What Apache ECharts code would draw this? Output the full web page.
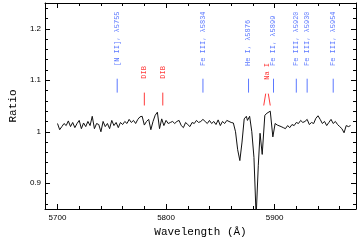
<!DOCTYPE html>
<html><head><meta charset="utf-8">
<script src="https://cdn.jsdelivr.net/npm/echarts@6/dist/echarts.min.js"></script>
<style>html,body{margin:0;padding:0;background:#fff}#c{width:360px;height:243px}</style>
</head><body><div id="c"></div>
<script>
const wavelengths = [5700,5702,5704,5706,5708,5710,5712,5714,5716,5718,5720,5722,5724,5726,5728,5730,5732,5734,5736,5738,5740,5742,5744,5746,5748,5750,5752,5754,5756,5758,5760,5762,5764,5766,5768,5770,5772,5774,5776,5778,5780,5782,5784,5786,5788,5790,5792,5794,5796,5798,5800,5802,5804,5806,5808,5810,5812,5814,5816,5818,5820,5822,5824,5826,5828,5830,5832,5834,5836,5838,5840,5842,5844,5846,5848,5850,5852,5854,5856,5858,5860,5862,5864,5866,5868,5870,5872,5874,5875,5877,5879,5881,5883,5885,5886.6,5888.6,5891,5893,5896,5898.4,5900.5,5902.5,5904,5906,5908,5910,5912,5914,5916,5918,5920,5922,5924,5926,5928,5930,5932,5934,5936,5938,5940,5942,5944,5946,5948,5950,5952,5954,5956,5958,5960,5962,5964,5966,5968,5970];
const ratios = [1.016,1.004,1.010,1.016,1.012,1.021,1.010,1.018,1.008,1.016,1.022,1.006,1.017,1.010,1.020,1.012,1.030,1.006,1.016,1.014,1.000,1.020,1.010,1.016,1.006,1.022,1.012,1.018,1.008,1.018,1.014,1.020,1.016,1.024,1.018,1.022,1.016,1.024,1.029,1.030,1.013,1.020,1.024,1.004,1.020,1.032,1.038,1.006,1.025,1.012,1.022,1.016,1.018,1.020,1.016,1.020,1.022,1.012,1.008,1.018,1.014,1.010,1.018,1.016,1.022,1.018,1.020,1.024,1.020,1.016,1.022,1.016,1.020,1.014,1.023,1.012,1.020,1.016,1.022,1.020,1.018,1.017,1.000,0.965,0.944,0.980,1.025,1.030,1.022,1.030,1.000,0.950,0.835,0.935,0.997,0.956,1.032,1.036,1.040,0.990,1.016,1.013,1.014,1.010,1.008,1.006,1.012,1.008,1.014,1.012,1.018,1.016,1.022,1.018,1.020,1.024,1.014,1.018,1.016,1.026,1.031,1.024,1.016,1.020,1.012,1.018,1.024,1.016,1.020,1.014,1.010,1.006,0.998,1.012,1.010,1.012];

const xMajorTicks = [5700,5800,5900];
const xMinorTicks = [5700,5720,5740,5760,5780,5800,5820,5840,5860,5880,5900,5920,5940,5960];
const yMajorTicks = [0.9,1.0,1.1,1.2];
const yMinorTicks = [0.86,0.88,0.9,0.92,0.94,0.96,0.98,1.0,1.02,1.04,1.06,1.08,1.1,1.12,1.14,1.16,1.18,1.2,1.22,1.24];

const blueLineWaves = [5755,5834,5876,5899,5920,5930,5954];
const blueLabels = ['[N II], λ5755','Fe III, λ5834','He I, λ5876','Fe II, λ5899','Fe III, λ5920','Fe III, λ5930','Fe III, λ5954'];
const dibWaves = [5780,5797];
const dibLabels = ['DIB','DIB'];
const naWaves = [5890,5896];
const naLabel = 'Na I';

const BLUE = '#5b78ff', RED = '#ff3a3a';
const XMIN = 5688.5, XMAX = 5975, YMIN = 0.85, YMAX = 1.25;

const chart = echarts.init(document.getElementById('c'));
const tickFont = {fontFamily:'Liberation Sans', fontSize:8, color:'#000', formatter:(v)=>String(+v.toFixed(2))};
function xAx(pos, ticks, len, labels, line) {
  return {type:'value', min:XMIN, max:XMAX, position:pos,
    axisLine:{show:line, onZero:false, lineStyle:{color:'#000', width:1}},
    axisTick:{show:true, inside:true, length:len, customValues:ticks, lineStyle:{color:'#000', width:1}},
    axisLabel: labels ? Object.assign({show:true, customValues:labels, margin:5}, tickFont) : {show:false},
    splitLine:{show:false}};
}
function yAx(pos, ticks, len, labels, line) {
  return {type:'value', min:YMIN, max:YMAX, position:pos,
    axisLine:{show:line, onZero:false, lineStyle:{color:'#000', width:1}},
    axisTick:{show:true, inside:true, length:len, customValues:ticks, lineStyle:{color:'#000', width:1}},
    axisLabel: labels ? Object.assign({show:true, customValues:labels, margin:4}, tickFont) : {show:false},
    splitLine:{show:false}};
}
const xAxes = [xAx('bottom', xMajorTicks, 5, xMajorTicks, true), xAx('bottom', xMinorTicks, 3, null, false),
               xAx('top', xMajorTicks, 5, null, true), xAx('top', xMinorTicks, 3, null, false)];
Object.assign(xAxes[0], {name:'Wavelength (Å)', nameLocation:'middle', nameGap:18,
  nameTextStyle:{fontFamily:'Liberation Mono', fontSize:11, color:'#000'}});
const yAxes = [yAx('left', yMajorTicks, 5, yMajorTicks, true), yAx('left', yMinorTicks, 3, null, false),
               yAx('right', yMajorTicks, 5, null, true), yAx('right', yMinorTicks, 3, null, false)];
Object.assign(yAxes[0], {name:'Ratio', nameLocation:'middle', nameGap:22,
  nameTextStyle:{fontFamily:'Liberation Mono', fontSize:11, color:'#000'}});

const annFont = 'Liberation Mono';
function labelSeries(waves, texts, color, textY, lineTop, lineBot) {
  return {type:'custom', xAxisIndex:0, yAxisIndex:0, silent:true, clip:false,
    data: waves.map((w,i)=>[w,i]),
    renderItem:(params, api)=>{
      const x = api.value(0); const i = api.value(1);
      const pT = api.coord([x, textY]);
      const p1 = api.coord([x, lineTop]); const p2 = api.coord([x, lineBot]);
      return {type:'group', children:[
        {type:'line', shape:{x1:p1[0], y1:p1[1], x2:p2[0], y2:p2[1]}, style:{stroke:color, lineWidth:1}},
        {type:'text', x:pT[0], y:pT[1], rotation:Math.PI/2,
         style:{text:texts[i], fill:color, font:'7px "'+annFont+'"', align:'left', verticalAlign:'middle'}}
      ]};
    }};
}
const naSeries = {type:'custom', xAxisIndex:0, yAxisIndex:0, silent:true, clip:false,
  data: naWaves.map((w,i)=>[w,i]),
  renderItem:(params, api)=>{
    const x = api.value(0); const i = api.value(1);
    const mid = (naWaves[0]+naWaves[1])/2;
    const topX = x + (mid - x)*0.6;
    const a = api.coord([x, 1.051]); const b = api.coord([topX, 1.074]);
    const children = [{type:'line', shape:{x1:a[0], y1:a[1], x2:b[0], y2:b[1]}, style:{stroke:RED, lineWidth:1}}];
    if (i === 0) {
      const t = api.coord([mid, 1.101]);
      children.push({type:'text', x:t[0], y:t[1], rotation:Math.PI/2,
        style:{text:naLabel, fill:RED, font:'7px "'+annFont+'"', align:'left', verticalAlign:'middle'}});
    }
    return {type:'group', children};
  }};

chart.setOption({
  animation:false,
  backgroundColor:'#fff',
  grid:{left:33, right:4, top:3, bottom:32, containLabel:false},
  xAxis:xAxes, yAxis:yAxes,
  series:[
    {type:'line', xAxisIndex:0, yAxisIndex:0, data:wavelengths.map((w,i)=>[w, ratios[i]]),
     symbol:'none', lineStyle:{color:'#111', width:1}, clip:true},
    labelSeries(blueLineWaves, blueLabels, BLUE, 1.1276, 1.103, 1.076),
    labelSeries(dibWaves, dibLabels, RED, 1.103, 1.076, 1.051),
    naSeries
  ]
});
</script></body></html>
